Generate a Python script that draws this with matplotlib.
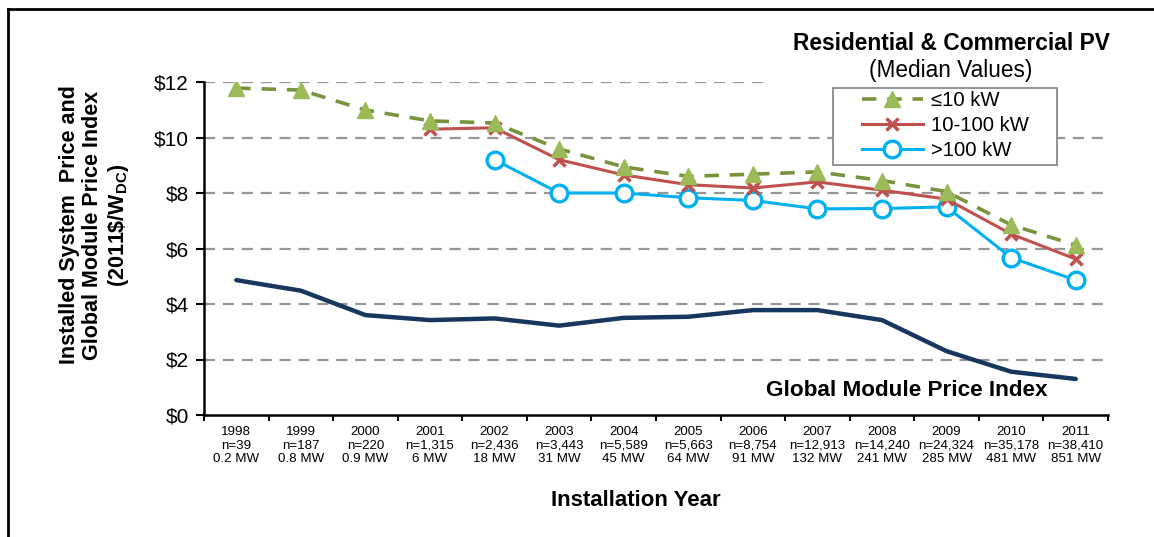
import matplotlib.pyplot as plt
from matplotlib.patches import Rectangle
from matplotlib.lines import Line2D

plt.rcParams['font.family'] = ['Liberation Sans', 'DejaVu Sans']

years = ["1998", "1999", "2000", "2001", "2002", "2003", "2004",
         "2005", "2006", "2007", "2008", "2009", "2010", "2011"]
counts = ["n=39", "n=187", "n=220", "n=1,315", "n=2,436", "n=3,443", "n=5,589",
          "n=5,663", "n=8,754", "n=12,913", "n=14,240", "n=24,324", "n=35,178", "n=38,410"]
capacity = ["0.2 MW", "0.8 MW", "0.9 MW", "6 MW", "18 MW", "31 MW", "45 MW",
            "64 MW", "91 MW", "132 MW", "241 MW", "285 MW", "481 MW", "851 MW"]

# median installed price, 2011$/W
small = [11.78, 11.71, 10.99, 10.6, 10.52, 9.59, 8.94, 8.6, 8.68, 8.76, 8.45, 8.05, 6.85, 6.12]
medium = [None, None, None, 10.3, 10.35, 9.2, 8.65, 8.3, 8.18, 8.4, 8.1, 7.78, 6.52, 5.62]
large = [None, None, None, None, 9.2, 8.0, 8.0, 7.83, 7.73, 7.43, 7.44, 7.5, 5.67, 4.86]
module = [4.86, 4.48, 3.6, 3.42, 3.48, 3.22, 3.5, 3.54, 3.78, 3.78, 3.42, 2.3, 1.56, 1.3]

x = list(range(len(years)))
W, H = 1154, 537

fig = plt.figure(figsize=(W / 100, H / 100), dpi=100)
ax = fig.add_axes([204 / W, 1 - 415 / H, (1108 - 204) / W, (415 - 82) / H])

# dashed gridlines
for v in [2, 4, 6, 8, 10, 12]:
    ax.axhline(v, color="#969696", lw=1.6, ls=(0, (5, 3.5)), zorder=1)

def pts(vals):
    xs = [i for i, v in zip(x, vals) if v is not None]
    ys = [v for v in vals if v is not None]
    return xs, ys

ax.plot(x, module, color="#17375E", lw=3.2, zorder=2, solid_capstyle="round")
xs, ys = pts(large)
ax.plot(xs, ys, color="#00B0F0", lw=2.2, marker="o", ms=12, mfc="white",
        mec="#00B0F0", mew=2.4, zorder=3, label=">100 kW")
xs, ys = pts(medium)
ax.plot(xs, ys, color="#C0504D", lw=2.2, marker="x", ms=9, mew=2.5, zorder=4,
        label="10-100 kW")
ax.plot(x, small, color="#77933C", lw=2.6, ls=(0, (4, 3)), marker="^", ms=11,
        mfc="#9BBB59", mec="#9BBB59", zorder=5, label="≤10 kW")

ax.set_xlim(-0.5, 13.5)
ax.set_ylim(0, 12)
ax.set_yticks([0, 2, 4, 6, 8, 10, 12])
ax.set_yticklabels(["$0", "$2", "$4", "$6", "$8", "$10", "$12"], fontsize=15)
ax.set_xticks(x)
ax.set_xticklabels([f"{a}\n{b}\n{c}" for a, b, c in zip(years, counts, capacity)],
                   fontsize=9.6, linespacing=1.17)
ax.set_xticks([i - 0.5 for i in range(15)], minor=True)
ax.tick_params(axis="x", which="major", length=0, pad=8)
ax.tick_params(axis="x", which="minor", length=4, width=1.5, direction="out")
ax.tick_params(axis="y", length=6, width=1.5, direction="out", pad=5)

for s in ["top", "right"]:
    ax.spines[s].set_visible(False)
for s in ["left", "bottom"]:
    ax.spines[s].set_linewidth(1.8)

fig.text(95 / W, 1 - 225 / H,
         "Installed System  Price and\nGlobal Module Price Index\n(2011\\$/W$_{\\mathregular{DC}}$)",
         rotation=90, ha="center", va="center", fontsize=15.5, fontweight="bold",
         linespacing=1.12, multialignment="center")
fig.text(636 / W, 1 - 500 / H, "Installation Year", ha="center", va="center",
         fontsize=16, fontweight="bold")

fig.text(907 / W, 1 - 390 / H, "Global Module Price Index", ha="center",
         va="center", fontsize=16.2, fontweight="bold")

# white block behind the title, covering the top gridline
fig.patches.append(Rectangle((770 / W, 1 - 90 / H), 370 / W, 62 / H,
                             transform=fig.transFigure, facecolor="white",
                             edgecolor="none", zorder=3))
fig.text(951 / W, 1 - 43 / H, "Residential & Commercial PV", ha="center",
         va="center", fontsize=16.4, fontweight="bold", zorder=4)
fig.text(951 / W, 1 - 70 / H, "(Median Values)", ha="center", va="center",
         fontsize=16.3, zorder=4)

# legend frame drawn by hand, entries from the legend
fig.patches.append(Rectangle((833 / W, 1 - 165 / H), (1057 - 833) / W, 77 / H,
                             transform=fig.transFigure, facecolor="white",
                             edgecolor="#808080", lw=1.2, zorder=5))
handles, labels = ax.get_legend_handles_labels()
leg = fig.legend(handles[::-1], labels[::-1], loc="upper left",
                 bbox_to_anchor=(862 / W, 1 - 91 / H),
                 fontsize=14.6, frameon=False, handlelength=3.0,
                 labelspacing=0.3, borderpad=0, handletextpad=0.4,
                 borderaxespad=0)
leg.set_zorder(6)

# outer border (left and top)
fig.add_artist(Line2D([8 / W, 8 / W], [0, 1 - 9 / H], color="black", lw=2,
                      transform=fig.transFigure))
fig.add_artist(Line2D([8 / W, 1], [1 - 9 / H, 1 - 9 / H], color="black", lw=2,
                      transform=fig.transFigure))

fig.savefig("out.png", dpi=100)
